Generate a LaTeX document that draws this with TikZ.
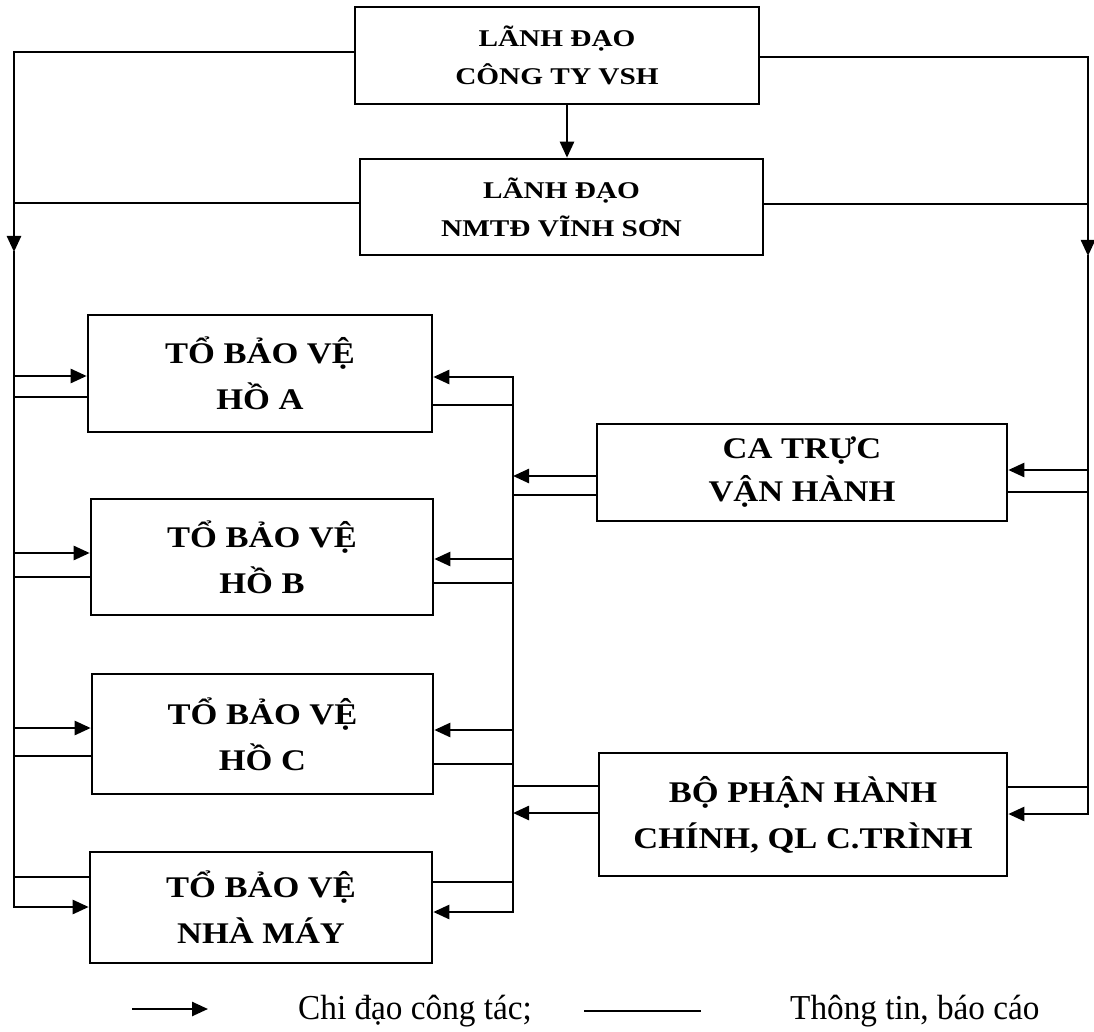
\documentclass[tikz,border=0pt]{standalone}
\usepackage{fontspec}
\setmainfont{Liberation Serif}
\newfontfamily\bigfont[FakeStretch=1.15]{Liberation Serif}
\newfontfamily\topfont[FakeStretch=1.22]{Liberation Serif}
\newfontfamily\legfont[FakeStretch=0.95]{Liberation Serif}
\usetikzlibrary{arrows.meta}
\tikzset{
  box/.style={draw, line width=2.6pt, inner sep=0pt, align=center,
    font=\bigfont\bfseries\fontsize{30}{46}\selectfont},
  cabox/.style={box, font=\bigfont\bfseries\fontsize{30}{43}\selectfont},
  topbox/.style={box, font=\topfont\bfseries\fontsize{24}{38}\selectfont},
  ln/.style={line width=2.5pt, line cap=rect},
  arr/.style={line width=2.5pt, -{Triangle[length=16pt,width=14pt]}},
  legtext/.style={anchor=base west, inner sep=0pt, font=\legfont\fontsize{35}{38}\selectfont}
}
\begin{document}
\begin{tikzpicture}[x=1pt,y=-1pt]
\useasboundingbox (0,0) rectangle (1094,1032);
% boxes
\node[topbox, minimum width=404pt, minimum height=97pt] (top) at (557,55.5) {LÃNH ĐẠO\\CÔNG TY VSH};
\node[topbox, minimum width=403pt, minimum height=96pt] (mid) at (561.5,207) {LÃNH ĐẠO\\NMTĐ VĨNH SƠN};
\node[box, minimum width=344pt, minimum height=117pt] (A) at (260,373.5) {TỔ BẢO VỆ\\HỒ A};
\node[box, minimum width=342pt, minimum height=116pt] (B) at (262,557) {TỔ BẢO VỆ\\HỒ B};
\node[box, minimum width=341pt, minimum height=120pt] (C) at (262.5,734) {TỔ BẢO VỆ\\HỒ C};
\node[box, minimum width=342pt, minimum height=111pt] (N) at (261,907.5) {TỔ BẢO VỆ\\NHÀ MÁY};
\node[cabox, minimum width=410pt, minimum height=97pt] (CA) at (802,472.5) {CA TRỰC\\VẬN HÀNH};
\node[box, minimum width=408pt, minimum height=123pt] (BP) at (803,814.5) {BỘ PHẬN HÀNH\\CHÍNH, QL C.TRÌNH};
% trunk coordinates
\coordinate (LT) at (14,52);
\coordinate (LM) at (14,252);
\coordinate (LB) at (14,907);
\coordinate (RT) at (1088,57);
\coordinate (RM) at (1088,256);
\coordinate (RB) at (1088,814);
\coordinate (ax) at (567,0);
\coordinate (BT) at (513,377);
\coordinate (BB) at (513,912);
% top connectors
\draw[arr] (top.south -| ax) -- (mid.north -| ax);
\draw[arr] (top.west |- LT) -- (LT) -- (LM);
\draw[ln] (LM) -- (LB);
\draw[arr] (top.east |- RT) -- (RT) -- (RM);
\draw[ln] (RM) -- (RB);
\coordinate (m2l) at (14,203);
\draw[ln] (m2l -| mid.west) -- (m2l);
\coordinate (m2r) at (1088,204);
\draw[ln] (m2r -| mid.east) -- (m2r);
% left trunk to left boxes
\foreach \b/\ya/\yl in {A/376/397, B/553/577, C/728/756, N/907/877} {
  \coordinate (la\b) at (14,\ya);
  \draw[arr] (la\b) -- (la\b -| \b.west);
  \coordinate (ll\b) at (14,\yl);
  \draw[ln] (ll\b -| \b.west) -- (ll\b);
}
% bus
\draw[ln] (BT) -- (BB);
\foreach \b/\ya/\yl in {A/377/405, B/559/583, C/730/764, N/912/882} {
  \coordinate (ra\b) at (513,\ya);
  \draw[arr] (ra\b) -- (ra\b -| \b.east);
  \coordinate (rl\b) at (513,\yl);
  \draw[ln] (rl\b -| \b.east) -- (rl\b);
}
% CA connectors
\coordinate (c1) at (513,476);
\draw[arr] (c1 -| CA.west) -- (c1);
\coordinate (c2) at (513,495);
\draw[ln] (c2 -| CA.west) -- (c2);
\coordinate (c3) at (1088,470);
\draw[arr] (c3) -- (c3 -| CA.east);
\coordinate (c4) at (1088,492);
\draw[ln] (c4) -- (c4 -| CA.east);
% BP connectors
\coordinate (p1) at (513,786);
\draw[ln] (p1 -| BP.west) -- (p1);
\coordinate (p2) at (513,813);
\draw[arr] (p2 -| BP.west) -- (p2);
\coordinate (p3) at (1088,787);
\draw[ln] (p3) -- (p3 -| BP.east);
\draw[arr] (RB) -- (RB -| BP.east);
% legend
\coordinate (g1) at (132,1009);
\coordinate (g2) at (208,1009);
\draw[arr] (g1) -- (g2);
\node[legtext] (t1) at (298,1019) {Chi đạo công tác;};
\coordinate (g3) at (585,1011);
\coordinate (g4) at (700,1011);
\draw[ln] (g3) -- (g4);
\node[legtext] (t2) at (790,1019) {Thông tin, báo cáo};
\end{tikzpicture}
\end{document}
